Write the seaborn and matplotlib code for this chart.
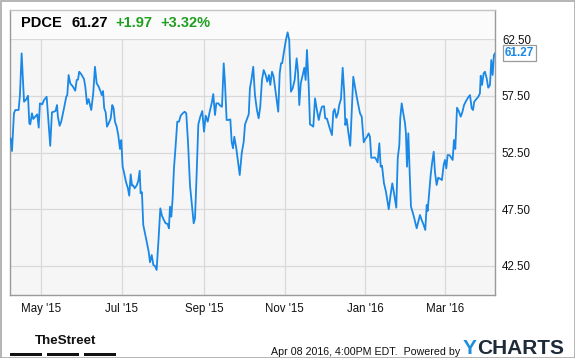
import numpy as np
import pandas as pd
import matplotlib
matplotlib.use("Agg")
import matplotlib.pyplot as plt
import matplotlib.dates as mdates
from matplotlib.patches import Rectangle
import seaborn as sns

# ---------------- data ----------------
ticker = "PDCE"
last_price = 61.27
change_abs = "+1.97"
change_pct = "+3.32%"
timestamp_text = "Apr 08 2016, 4:00PM EDT.  Powered by"
base_date = "2015-04-08"

day_offsets = [
    0.0, 1.0, 2.5, 3.5, 6.0, 7.0, 8.3, 10.1, 11.8, 13.1, 14.1, 14.8, 16.1, 17.1, 18.6, 20.1,
    21.2, 22.1, 23.9, 25.2, 27.2, 28.7, 29.9, 31.2, 33.3, 34.0, 35.0, 35.7, 37.0, 38.2, 40.3,
    42.0, 42.8, 43.8, 45.0, 47.1, 48.8, 49.9, 50.9, 51.8, 53.4, 55.4, 56.4, 57.7, 58.9, 60.9,
    62.4, 63.7, 65.0, 66.5, 68.0, 68.8, 69.8, 70.7, 71.8, 72.8, 74.1, 75.6, 76.8, 77.8, 78.8,
    80.1, 81.3, 82.6, 83.6, 84.6, 85.8, 87.1, 88.6, 89.6, 90.7, 91.7, 92.6, 93.7, 95.2, 96.4,
    97.5, 98.2, 99.2, 100.2, 101.5, 102.8, 104.3, 105.3, 106.6, 107.8, 109.0, 110.3, 111.8,
    113.1, 114.3, 115.8, 117.1, 118.6, 119.6, 120.4, 121.4, 122.4, 123.4, 124.7, 125.9, 127.2,
    128.5, 130.0, 131.5, 132.7, 134.0, 135.5, 137.0, 138.3, 139.3, 140.6, 141.8, 143.3, 144.8,
    146.1, 147.4, 148.9, 150.4, 151.9, 153.1, 154.4, 155.4, 156.9, 158.4, 159.7, 161.0, 161.9,
    163.2, 164.4, 166.0, 167.0, 168.0, 169.0, 170.5, 171.8, 173.1, 174.6, 176.1, 177.1, 178.3,
    179.9, 180.8, 182.1, 183.3, 184.6, 186.1, 187.4, 188.6, 189.9, 191.2, 192.7, 193.9, 195.2,
    196.2, 197.5, 198.7, 200.0, 201.2, 202.2, 203.3, 204.3, 205.2, 206.5, 208.0, 209.3, 210.5,
    211.8, 213.1, 214.6, 216.1, 217.1, 218.1, 219.2, 220.7, 221.9, 222.9, 223.9, 225.2, 226.2,
    227.5, 228.7, 230.0, 231.2, 232.8, 234.0, 235.2, 236.8, 237.7, 239.0, 240.0, 241.3, 242.8,
    243.8, 244.8, 246.1, 247.3, 248.3, 249.6, 250.9, 252.1, 252.9, 253.9, 255.1, 256.6, 257.7,
    258.9, 260.2, 261.5, 262.7, 264.0, 265.3, 266.8, 268.0, 269.3, 270.5, 271.5, 272.5, 273.8,
    275.1, 276.1, 277.3, 278.6, 279.6, 280.6, 282.1, 283.6, 285.7, 286.9, 288.4, 289.9, 291.4,
    292.5, 293.7, 294.4, 295.5, 296.7, 298.0, 298.7, 299.5, 300.5, 301.5, 302.5, 303.8, 305.0,
    306.8, 308.0, 309.3, 310.6, 312.1, 313.3, 314.4, 315.1, 316.1, 317.4, 318.4, 319.7, 320.6,
    321.9, 323.1, 324.4, 325.9, 327.2, 328.2, 329.2, 330.2, 331.8, 332.7, 334.0, 335.0, 336.0,
    337.3, 338.6, 340.1, 341.3, 342.6, 344.1, 345.6, 347.1, 348.4, 349.4, 350.3, 351.9, 353.4,
    354.6, 355.2, 356.2, 357.4, 358.4, 359.7, 360.9, 362.2, 363.2, 364.2, 365.2, 366.0,
]

prices = [
    53.76, 52.64, 55.97, 56.26, 56.26, 57.58, 61.26, 56.99, 57.20, 57.52, 55.09, 55.00, 55.97,
    55.47, 55.68, 55.88, 54.70, 56.85, 56.76, 57.14, 57.43, 55.09, 53.10, 56.06, 56.14, 56.20,
    56.70, 55.67, 54.87, 55.23, 56.41, 57.43, 57.58, 59.35, 58.62, 58.32, 57.96, 58.91, 58.95,
    59.64, 59.41, 59.00, 58.32, 56.79, 57.23, 56.26, 57.73, 60.08, 58.62, 58.32, 57.88, 57.58,
    57.94, 56.41, 56.06, 54.79, 55.09, 55.53, 56.70, 56.41, 55.23, 54.79, 54.05, 52.82, 53.61,
    51.26, 50.67, 49.93, 49.35, 48.70, 50.58, 49.58, 49.60, 49.35, 49.60, 49.99, 50.90, 48.91,
    49.00, 46.11, 45.38, 44.64, 43.75, 42.82, 43.46, 42.58, 42.50, 42.14, 44.94, 47.58, 46.93,
    46.55, 46.26, 46.20, 45.82, 47.73, 46.84, 48.47, 51.11, 53.17, 55.23, 55.23, 55.76, 55.97,
    56.11, 55.97, 53.46, 49.64, 47.88, 46.26, 46.70, 50.81, 54.99, 55.67, 56.17, 54.35, 55.76,
    55.23, 56.11, 56.85, 57.67, 55.82, 56.85, 56.85, 56.64, 56.55, 60.38, 58.76, 55.38, 55.38,
    55.43, 53.46, 52.88, 53.90, 52.88, 51.70, 50.52, 52.44, 53.46, 54.99, 55.38, 55.88, 58.17,
    59.06, 60.08, 57.58, 56.26, 55.53, 56.55, 58.91, 59.79, 59.35, 58.76, 59.35, 58.47, 59.64,
    59.20, 58.03, 56.99, 56.11, 59.50, 60.38, 60.40, 61.41, 62.44, 63.12, 62.44, 57.88, 58.17,
    58.91, 60.82, 59.64, 56.70, 58.62, 59.35, 59.99, 58.91, 61.56, 58.47, 54.99, 54.90, 54.79,
    57.29, 56.41, 55.38, 56.06, 56.55, 56.60, 55.53, 55.50, 55.09, 54.58, 54.05, 56.11, 56.35,
    55.58, 55.97, 56.70, 57.23, 59.99, 57.73, 54.94, 55.47, 54.35, 53.10, 56.11, 59.20, 58.32,
    57.43, 56.70, 55.97, 55.67, 53.41, 53.70, 53.90, 54.20, 53.90, 52.05, 52.05, 52.08, 51.93,
    51.64, 53.32, 51.26, 51.35, 49.79, 49.05, 47.50, 48.61, 49.79, 48.76, 47.64, 52.00, 53.17,
    55.53, 56.85, 55.97, 55.09, 54.20, 51.26, 54.20, 50.81, 47.73, 47.23, 46.70, 45.82, 46.40,
    46.99, 46.55, 46.11, 45.67, 47.88, 47.35, 48.76, 50.52, 51.55, 52.58, 50.81, 49.64, 50.29,
    50.20, 50.08, 51.41, 51.85, 51.11, 52.29, 52.26, 52.08, 51.85, 53.61, 52.82, 56.46, 56.17,
    55.67, 56.06, 56.70, 57.05, 57.35, 57.58, 56.41, 56.26, 56.99, 57.23, 57.43, 57.73, 59.29,
    58.47, 59.50, 59.64, 59.06, 58.23, 58.47, 60.67, 59.35, 61.11, 61.27,
]

y_ticks = [42.50, 47.50, 52.50, 57.50, 62.50]
x_tick_dates = ["2015-05-01", "2015-07-01", "2015-09-01", "2015-11-01", "2016-01-01", "2016-03-01"]

# ---------------- styling ----------------
sns.set_theme(style="white")
plt.rcParams["font.family"] = ["Liberation Sans", "DejaVu Sans"]

LINE = "#1a88e6"
GRID = "#d9d9d9"
BORDER = "#9a9a9a"
GREEN = "#1f9e1f"

dates = pd.Timestamp(base_date) + pd.to_timedelta(day_offsets, unit="D")
df = pd.DataFrame({"date": dates, "price": prices})

fig = plt.figure(figsize=(5.75, 3.58), dpi=100)
fig.patch.set_facecolor("white")
W, H = 575.0, 358.0
ax = fig.add_axes([10 / W, (H - 295) / H, 485 / W, 285 / H])
ax.set_facecolor("#f6f6f6")

sns.lineplot(data=df, x="date", y="price", ax=ax, color=LINE, linewidth=1.3,
             estimator=None, sort=False, zorder=4)

x0 = pd.Timestamp(base_date) - pd.Timedelta(days=0.5)
x1 = pd.Timestamp(base_date) + pd.Timedelta(days=366.0)
ax.set_xlim(x0, x1)
ax.set_ylim(39.93, 65.09)

# header strip
ax.axhspan(62.5, 65.09, color="#fbfbfb", zorder=1.5, lw=0)

ax.set_yticks(y_ticks)
ax.set_yticklabels([f"{v:.2f}" for v in y_ticks])
ax.yaxis.tick_right()
ax.set_xticks(pd.to_datetime(x_tick_dates))
ax.xaxis.set_major_formatter(mdates.DateFormatter("%b '%y"))
ax.tick_params(axis="both", length=0, labelsize=8.3, colors="#111111")
ax.tick_params(axis="y", pad=5)
ax.tick_params(axis="x", pad=6)
ax.set_xlabel("")
ax.set_ylabel("")

ax.grid(True, color=GRID, linewidth=0.9, zorder=1)
ax.set_axisbelow(True)
for side in ["left", "right", "bottom", "top"]:
    ax.spines[side].set_visible(True)
    ax.spines[side].set_color(BORDER)
    ax.spines[side].set_linewidth(1.0)
ax.spines["top"].set_color("#c4c4c4")

# last-price label
ax.annotate(f"{last_price:.2f}", xy=(dates[-1], prices[-1]), xytext=(7, 0),
            textcoords="offset points", ha="left", va="center",
            fontsize=8.5, fontweight="bold", color=LINE, annotation_clip=False,
            bbox=dict(boxstyle="square,pad=0.18", fc="white", ec="#9a9a9a", lw=0.9),
            zorder=6)

# header text
ty = 1 - 23 / H
fig.text(21 / W, ty, ticker, fontsize=10.5, fontweight="bold", color="black", va="center")
fig.text(71 / W, ty, f"{last_price:.2f}", fontsize=10.5, fontweight="bold", color="black", va="center")
fig.text(115 / W, ty, change_abs, fontsize=10.5, fontweight="bold", color=GREEN, va="center")
fig.text(160 / W, ty, change_pct, fontsize=10.5, fontweight="bold", color=GREEN, va="center")

# footer
fig.text(35 / W, 1 - 341 / H, "TheStreet", fontsize=9.6, fontweight="bold",
         family=["Liberation Sans Narrow", "Liberation Sans"], color="#111111", va="center")
for xa, xb in [(10, 42), (47, 79), (84, 116)]:
    fig.add_artist(Rectangle((xa / W, 1 - 356 / H), (xb - xa) / W, 3 / H,
                             transform=fig.transFigure, fc="#111111", ec="none"))
fig.text(460 / W, 1 - 352 / H, timestamp_text, fontsize=7.7, color="#111111",
         ha="right", va="center")
fig.text(463 / W, 1 - 348 / H, "Y", fontsize=15, fontweight="bold",
         color="#1b8fe0", va="center")
fig.text(477 / W, 1 - 348 / H, "CHARTS", fontsize=15, fontweight="bold",
         color="#1d2a38", va="center")

# outer border
fig.add_artist(Rectangle((0.5 / W, 0.5 / H), (W - 1) / W, (H - 1) / H,
                         transform=fig.transFigure, fill=False, ec="#a8a8a8", lw=1.2))

fig.savefig("out.png", dpi=100, facecolor="white")
